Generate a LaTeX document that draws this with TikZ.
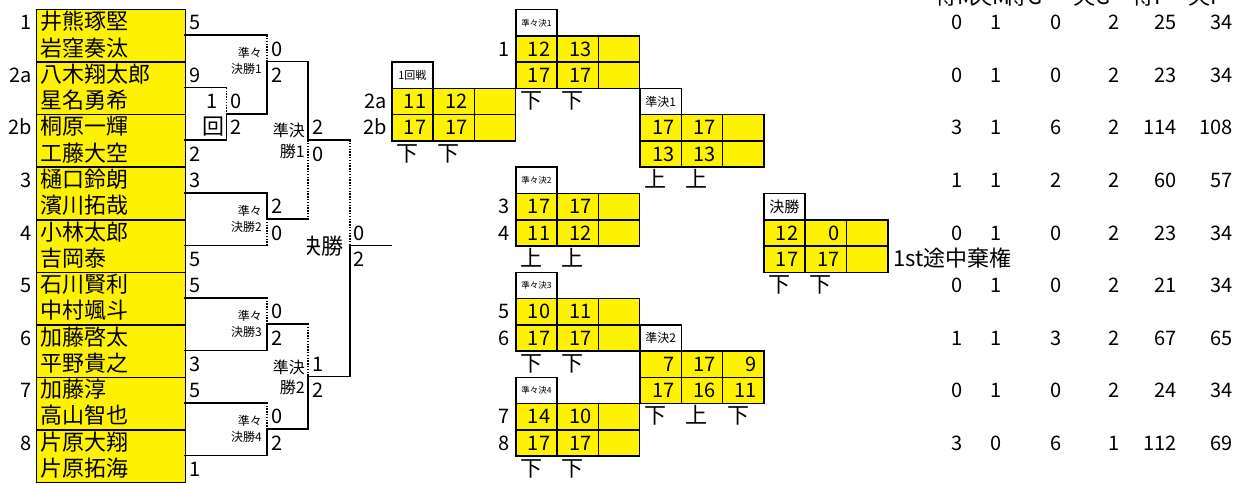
\documentclass[tikz,border=0pt]{standalone}
\usepackage{fontspec}
\setmainfont{Noto Sans CJK JP}
\pgfmathdeclarefunction{ry}{1}{\pgfmathparse{9+26.25*#1}}
\tikzset{
  bline/.style={line width=1.5pt, line cap=rect},
  dline/.style={line width=1.3pt, dash pattern=on 1.4pt off 1.4pt},
  txt/.style={inner sep=0pt, font=\fontsize{22}{24}\selectfont},
  numt/.style={inner sep=0pt, font=\fontsize{20}{22}\selectfont},
  qft/.style={inner sep=0pt, font=\fontsize{12}{13}\selectfont},
  sft/.style={inner sep=0pt, font=\fontsize{16}{17}\selectfont},
  namebox/.style={draw, line width=1.5pt, fill=yellow, inner sep=0pt, anchor=north west, minimum width=148.8pt, minimum height=52.5pt},
  scell/.style={draw, line width=1.5pt, fill=yellow, inner sep=0pt, anchor=north west, minimum width=41.33pt, minimum height=26.25pt},
  hcell/.style={draw, line width=1.5pt, fill=white, inner sep=0pt, anchor=north west, minimum width=41.33pt, minimum height=26.25pt},
}
% score cell: name, x0, col, row, value
\newcommand{\scv}[5]{%
  \node[scell] (#1) at ({#2+41.33*#3},{ry(#4)}) {};
  \node[numt, anchor=base east] (#1v) at ({#2+41.33*#3+35.3},{ry(#4)+21}) {#5};}
% header cell: name, x0, row, font size, text
\newcommand{\hdc}[5]{%
  \node[hcell, font=\fontsize{#4}{#4}\selectfont] (#1) at (#2,{ry(#3)}) {#5};}
% mark below: name, x0, col, row, text
\newcommand{\mk}[5]{%
  \node[txt, anchor=base west] (#1) at ({#2+41.33*#3+5},{ry(#4)+21}) {#5};}
\begin{document}
\begin{tikzpicture}[x=1pt,y=-1pt]
\useasboundingbox (0,0) rectangle (1245,484);
\clip (0,0) rectangle (1245,484);
% ---------- name boxes ----------
\foreach \k in {0,...,8} {
  \node[namebox] (box\k) at (35.7,{ry(2*\k)}) {};
}
\foreach \r/\n in {0/井熊琢堅,1/岩窪奏汰,2/八木翔太郎,3/星名勇希,4/桐原一輝,5/工藤大空,6/樋口鈴朗,7/濱川拓哉,8/小林太郎,9/吉岡泰,10/石川賢利,11/中村颯斗,12/加藤啓太,13/平野貴之,14/加藤淳,15/高山智也,16/片原大翔,17/片原拓海} {
  \node[txt, anchor=base west] (nm\r) at (40.7,{ry(\r)+21}) {\n};
}
\foreach \r/\s in {0/1,2/2a,4/2b,6/3,8/4,10/5,12/6,14/7,16/8} {
  \node[numt, anchor=base east] (seed\r) at (32,{ry(\r)+21}) {\s};
}
% ---------- bracket coordinates ----------
\foreach \r in {0,...,18} {
  \coordinate (L\r) at (185,{ry(\r)});
  \coordinate (A\r) at (226.5,{ry(\r)});
  \coordinate (B\r) at (267,{ry(\r)});
  \coordinate (C\r) at (308,{ry(\r)});
  \coordinate (D\r) at (350,{ry(\r)});
  \coordinate (E\r) at (391,{ry(\r)});
}
% entries
\draw[bline] (L1) -- (B1);
\draw[bline] (L3) -- (A3);
\draw[bline] (L5) -- (A5);
\draw[bline] (L7) -- (B7);
\draw[bline] (L9) -- (B9);
\draw[bline] (L11) -- (B11);
\draw[bline] (L13) -- (B13);
\draw[bline] (L15) -- (B15);
\draw[bline] (L17) -- (B17);
% 1st round
\draw[dline] (A3) -- (A4);
\draw[bline] (A4) -- (A5);
\draw[bline] (A4) -- (B4);
% QF1
\draw[dline] (B1) -- (B2);
\draw[bline] (B2) -- (B4);
\draw[bline] (B2) -- (C2);
% QF2
\draw[bline] (B7) -- (B8);
\draw[dline] (B8) -- (B9);
\draw[bline] (B8) -- (C8);
% QF3
\draw[dline] (B11) -- (B12);
\draw[bline] (B12) -- (B13);
\draw[bline] (B12) -- (C12);
% QF4
\draw[dline] (B15) -- (B16);
\draw[bline] (B16) -- (B17);
\draw[bline] (B16) -- (C16);
% SF1
\draw[bline] (C2) -- (C5);
\draw[dline] (C5) -- (C8);
\draw[bline] (C5) -- (D5);
% SF2
\draw[dline] (C12) -- (C14);
\draw[bline] (C14) -- (C16);
\draw[bline] (C14) -- (D14);
% Final
\draw[dline] (D5) -- (D9);
\draw[bline] (D9) -- (D14);
\draw[bline] (D9) -- (E9);
% ---------- bracket scores ----------
\foreach \r/\s in {0/5,2/9,5/2,6/3,9/5,10/5,13/3,14/5,17/1} {
  \node[numt, anchor=base west] (sa\r) at (189,{ry(\r)+21}) {\s};
}
\node[numt, anchor=base east] (r1a) at (218,{ry(3)+21}) {1};
\node[txt, anchor=base east] (r1b) at (225,{ry(4)+21}) {回};
\node[numt, anchor=base west] (sb3) at (230.5,{ry(3)+21}) {0};
\node[numt, anchor=base west] (sb4) at (230.5,{ry(4)+21}) {2};
\foreach \r/\s in {1/0,2/2,7/2,8/0,11/0,12/2,15/0,16/2} {
  \node[numt, anchor=base west] (sc\r) at (271,{ry(\r)+21}) {\s};
}
\foreach \r/\s in {4/2,5/0,13/1,14/2} {
  \node[numt, anchor=base west] (sd\r) at (312.5,{ry(\r)+21}) {\s};
}
\foreach \r/\s in {8/0,9/2} {
  \node[numt, anchor=base west] (se\r) at (353.5,{ry(\r)+21}) {\s};
}
% round labels
\foreach \b/\i in {2/1,8/2,12/3,16/4} {
  \node[qft, anchor=base east] (qa\i) at (262,{ry(\b)-4}) {準々};
  \node[qft, anchor=base east] (qb\i) at (262,{ry(\b)+12}) {決勝\i};
}
\foreach \b/\i in {5/1,14/2} {
  \node[sft, anchor=base east] (sfa\i) at (305,{ry(\b)-3.5}) {準決};
  \node[sft, anchor=base east] (sfb\i) at (305,{ry(\b)+17}) {勝\i};
}
\begin{scope}
  \clip (307,220) rectangle (349,275);
  \node[txt, anchor=base east] (finl) at (344,{ry(9)+9}) {決勝};
\end{scope}
% ---------- score tables ----------
% 1st round
\hdc{t1h}{391}{2}{11}{1回戦}
\scv{t1a1}{391}{0}{3}{11}\scv{t1a2}{391}{1}{3}{12}\scv{t1a3}{391}{2}{3}{}
\scv{t1b1}{391}{0}{4}{17}\scv{t1b2}{391}{1}{4}{17}\scv{t1b3}{391}{2}{4}{}
\node[numt, anchor=base east] (t1l1) at (387,{ry(3)+21}) {2a};
\node[numt, anchor=base east] (t1l2) at (387,{ry(4)+21}) {2b};
\mk{t1m1}{391}{0}{5}{下}\mk{t1m2}{391}{1}{5}{下}
% QF1
\hdc{q1h}{515}{0}{8.5}{準々決1}
\scv{q1a1}{515}{0}{1}{12}\scv{q1a2}{515}{1}{1}{13}\scv{q1a3}{515}{2}{1}{}
\scv{q1b1}{515}{0}{2}{17}\scv{q1b2}{515}{1}{2}{17}\scv{q1b3}{515}{2}{2}{}
\node[numt, anchor=base east] (q1l1) at (510,{ry(1)+21}) {1};
\mk{q1m1}{515}{0}{3}{下}\mk{q1m2}{515}{1}{3}{下}
% QF2
\hdc{q2h}{515}{6}{8.5}{準々決2}
\scv{q2a1}{515}{0}{7}{17}\scv{q2a2}{515}{1}{7}{17}\scv{q2a3}{515}{2}{7}{}
\scv{q2b1}{515}{0}{8}{11}\scv{q2b2}{515}{1}{8}{12}\scv{q2b3}{515}{2}{8}{}
\node[numt, anchor=base east] (q2l1) at (510,{ry(7)+21}) {3};
\node[numt, anchor=base east] (q2l2) at (510,{ry(8)+21}) {4};
\mk{q2m1}{515}{0}{9}{上}\mk{q2m2}{515}{1}{9}{上}
% QF3
\hdc{q3h}{515}{10}{8.5}{準々決3}
\scv{q3a1}{515}{0}{11}{10}\scv{q3a2}{515}{1}{11}{11}\scv{q3a3}{515}{2}{11}{}
\scv{q3b1}{515}{0}{12}{17}\scv{q3b2}{515}{1}{12}{17}\scv{q3b3}{515}{2}{12}{}
\node[numt, anchor=base east] (q3l1) at (510,{ry(11)+21}) {5};
\node[numt, anchor=base east] (q3l2) at (510,{ry(12)+21}) {6};
\mk{q3m1}{515}{0}{13}{下}\mk{q3m2}{515}{1}{13}{下}
% QF4
\hdc{q4h}{515}{14}{8.5}{準々決4}
\scv{q4a1}{515}{0}{15}{14}\scv{q4a2}{515}{1}{15}{10}\scv{q4a3}{515}{2}{15}{}
\scv{q4b1}{515}{0}{16}{17}\scv{q4b2}{515}{1}{16}{17}\scv{q4b3}{515}{2}{16}{}
\node[numt, anchor=base east] (q4l1) at (510,{ry(15)+21}) {7};
\node[numt, anchor=base east] (q4l2) at (510,{ry(16)+21}) {8};
\mk{q4m1}{515}{0}{17}{下}\mk{q4m2}{515}{1}{17}{下}
% SF1
\hdc{s1h}{639.3}{3}{12}{準決1}
\scv{s1a1}{639.3}{0}{4}{17}\scv{s1a2}{639.3}{1}{4}{17}\scv{s1a3}{639.3}{2}{4}{}
\scv{s1b1}{639.3}{0}{5}{13}\scv{s1b2}{639.3}{1}{5}{13}\scv{s1b3}{639.3}{2}{5}{}
\mk{s1m1}{639.3}{0}{6}{上}\mk{s1m2}{639.3}{1}{6}{上}
% SF2
\hdc{s2h}{639.3}{12}{12}{準決2}
\scv{s2a1}{639.3}{0}{13}{7}\scv{s2a2}{639.3}{1}{13}{17}\scv{s2a3}{639.3}{2}{13}{9}
\scv{s2b1}{639.3}{0}{14}{17}\scv{s2b2}{639.3}{1}{14}{16}\scv{s2b3}{639.3}{2}{14}{11}
\mk{s2m1}{639.3}{0}{15}{下}\mk{s2m2}{639.3}{1}{15}{上}\mk{s2m3}{639.3}{2}{15}{下}
% Final
\hdc{fh}{763}{7}{15}{決勝}
\scv{fa1}{763}{0}{8}{12}\scv{fa2}{763}{1}{8}{0}\scv{fa3}{763}{2}{8}{}
\scv{fb1}{763}{0}{9}{17}\scv{fb2}{763}{1}{9}{17}\scv{fb3}{763}{2}{9}{}
\node[txt, anchor=base west] (fnote) at (893,{ry(9)+21}) {1st途中棄権};
\mk{fm1}{763}{0}{10}{下}\mk{fm2}{763}{1}{10}{下}
% ---------- stats ----------
\foreach \x/\h [count=\i] in {935/得M,970/失M,1005/得G,1073/失G,1132/得P,1188/失P} {
  \node[txt, anchor=base west] (hd\i) at (\x,5) {\h};
}
\foreach \r/\a/\b/\c/\d/\e/\f in {0/0/1/0/2/25/34,2/0/1/0/2/23/34,4/3/1/6/2/114/108,6/1/1/2/2/60/57,8/0/1/0/2/23/34,10/0/1/0/2/21/34,12/1/1/3/2/67/65,14/0/1/0/2/24/34,16/3/0/6/1/112/69} {
  \node[numt, anchor=base east] (st\r a) at (963,{ry(\r)+21}) {\a};
  \node[numt, anchor=base east] (st\r b) at (1002,{ry(\r)+21}) {\b};
  \node[numt, anchor=base east] (st\r c) at (1062,{ry(\r)+21}) {\c};
  \node[numt, anchor=base east] (st\r d) at (1120,{ry(\r)+21}) {\d};
  \node[numt, anchor=base east] (st\r e) at (1177,{ry(\r)+21}) {\e};
  \node[numt, anchor=base east] (st\r f) at (1233,{ry(\r)+21}) {\f};
}
\end{tikzpicture}
\end{document}
